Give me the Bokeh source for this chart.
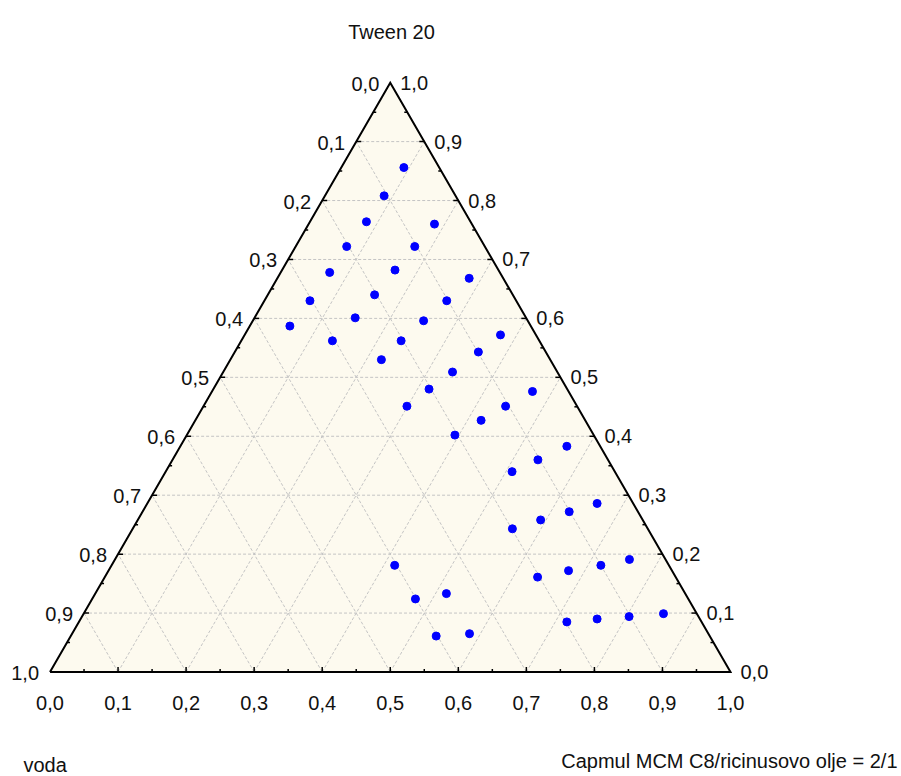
import math
from bokeh.plotting import figure
from bokeh.models import Range1d, ColumnDataSource
from bokeh.core.properties import value
from bokeh.embed import file_html
from bokeh.resources import INLINE

# ---- data (ternary fractions) ----
tween = [0.856, 0.808, 0.764, 0.760, 0.722, 0.722, 0.678, 0.682, 0.668, 0.630,
         0.640, 0.630, 0.587, 0.601, 0.596, 0.572, 0.562, 0.562, 0.543, 0.530,
         0.509, 0.480, 0.476, 0.451, 0.451, 0.427, 0.402, 0.383, 0.360, 0.340,
         0.286, 0.272, 0.258, 0.243, 0.181, 0.191, 0.181, 0.172, 0.161, 0.133,
         0.124, 0.099, 0.094, 0.090, 0.085, 0.065, 0.061]
capmul = [0.092, 0.087, 0.083, 0.185, 0.075, 0.175, 0.072, 0.166, 0.282, 0.067,
          0.157, 0.268, 0.059, 0.148, 0.251, 0.376, 0.134, 0.235, 0.358, 0.222,
          0.337, 0.317, 0.471, 0.299, 0.444, 0.420, 0.394, 0.568, 0.537, 0.509,
          0.661, 0.627, 0.592, 0.558, 0.416, 0.756, 0.719, 0.676, 0.636, 0.516,
          0.475, 0.852, 0.804, 0.759, 0.717, 0.584, 0.537]
voda = [round(1 - t - c, 3) for t, c in zip(tween, capmul)]

tick_values = [0.0, 0.1, 0.2, 0.3, 0.4, 0.5, 0.6, 0.7, 0.8, 0.9, 1.0]
tick_labels = ["0,0", "0,1", "0,2", "0,3", "0,4", "0,5", "0,6", "0,7", "0,8", "0,9", "1,0"]
minor_steps = [k * 0.05 for k in range(1, 20)]

title_top = "Tween 20"
title_left = "voda"
title_right = "Capmul MCM C8/ricinusovo olje = 2/1"

# ---- layout ----
W, H = 901, 776
S = 680.5                      # pixels per unit
R3 = math.sqrt(3) / 2
x0 = -49.5 / S
x1 = x0 + W / S
y1 = 671.5 / S
y0 = y1 - H / S
px = 1.0 / S                   # one pixel in data units

def xy(t, c):
    return c + t / 2.0, t * R3

def page(pxx, pyy):
    return x0 + pxx / S, y1 - pyy / S

p = figure(width=W, height=H, x_range=Range1d(x0, x1), y_range=Range1d(y0, y1),
           output_backend="svg", toolbar_location=None, min_border=0)
p.axis.visible = False
p.grid.visible = False
p.outline_line_color = None
p.background_fill_color = "white"
p.border_fill_color = "white"

# triangle fill
p.patch([0, 1, 0.5], [0, 0, R3], fill_color="#FDFAEF", line_color=None)

# grid lines
gx, gy = [], []
for v in tick_values[1:-1]:
    a = xy(v, 0.0); b = xy(v, 1 - v)            # constant Tween
    gx.append([a[0], b[0]]); gy.append([a[1], b[1]])
    a = xy(0.0, v); b = xy(1 - v, v)            # constant Capmul
    gx.append([a[0], b[0]]); gy.append([a[1], b[1]])
    a = xy(0.0, 1 - v); b = xy(1 - v, 0.0)      # constant voda
    gx.append([a[0], b[0]]); gy.append([a[1], b[1]])
p.multi_line(gx, gy, line_color="#c4c4c4", line_width=1, line_dash="3 2")

# ticks (inward)
tx0, ty0, tx1, ty1 = [], [], [], []
for k, s in enumerate(minor_steps, start=1):
    L = (5 if k % 2 == 0 else 3) * px
    tx0.append(s); ty0.append(0); tx1.append(s); ty1.append(L)
    X, Y = xy(s, 0.0)
    tx0.append(X); ty0.append(Y); tx1.append(X + L); ty1.append(Y)
    X, Y = xy(s, 1 - s)
    tx0.append(X); ty0.append(Y); tx1.append(X - L); ty1.append(Y)
p.segment(tx0, ty0, tx1, ty1, line_color="black", line_width=1.5)

# triangle edges
p.line([0, 1, 0.5, 0], [0, 0, R3, 0], line_color="black", line_width=2, line_join="miter")

# data points
px_, py_ = zip(*[xy(t, c) for t, c in zip(tween, capmul)])
src = ColumnDataSource(dict(x=list(px_), y=list(py_), tween=tween, capmul=capmul, voda=voda))
p.scatter("x", "y", source=src, size=8, fill_color="#0000FF", line_color="#0000FF")

font = value("Liberation Sans")
fs = "20px"
col = "#111111"

# bottom labels (Capmul)
p.text(list(tick_values), [-30.5 * px] * len(tick_values), text=tick_labels,
       text_font=font, text_font_size=fs, text_color=col,
       text_align="center", text_baseline="alphabetic")

# left labels (voda)
lx, ly = [], []
for v in tick_values:
    X, Y = xy(1 - v, 0.0)
    lx.append(X - 11 * px); ly.append(Y - 1 * px)
p.text(lx, ly, text=tick_labels, text_font=font, text_font_size=fs, text_color=col,
       text_align="right", text_baseline="alphabetic")

# right labels (Tween)
rx, ry = [], []
for t in tick_values:
    X, Y = xy(t, 1 - t)
    rx.append(X + 10 * px); ry.append(Y)
p.text(rx, ry, text=tick_labels, text_font=font, text_font_size=fs, text_color=col,
       text_align="left", text_baseline="alphabetic")

# axis titles
ax, ay = page(391, 31.5)
p.text([ax], [ay], text=[title_top], text_font=font, text_font_size=fs, text_color=col,
       text_align="center", text_baseline="alphabetic")
ax, ay = page(23, 764)
p.text([ax], [ay], text=[title_left], text_font=font, text_font_size=fs, text_color=col,
       text_align="left", text_baseline="alphabetic")
ax, ay = page(897, 760.5)
p.text([ax], [ay], text=[title_right], text_font=font, text_font_size=fs, text_color=col,
       text_align="right", text_baseline="alphabetic")

open("out.html", "w").write(file_html(p, INLINE))
